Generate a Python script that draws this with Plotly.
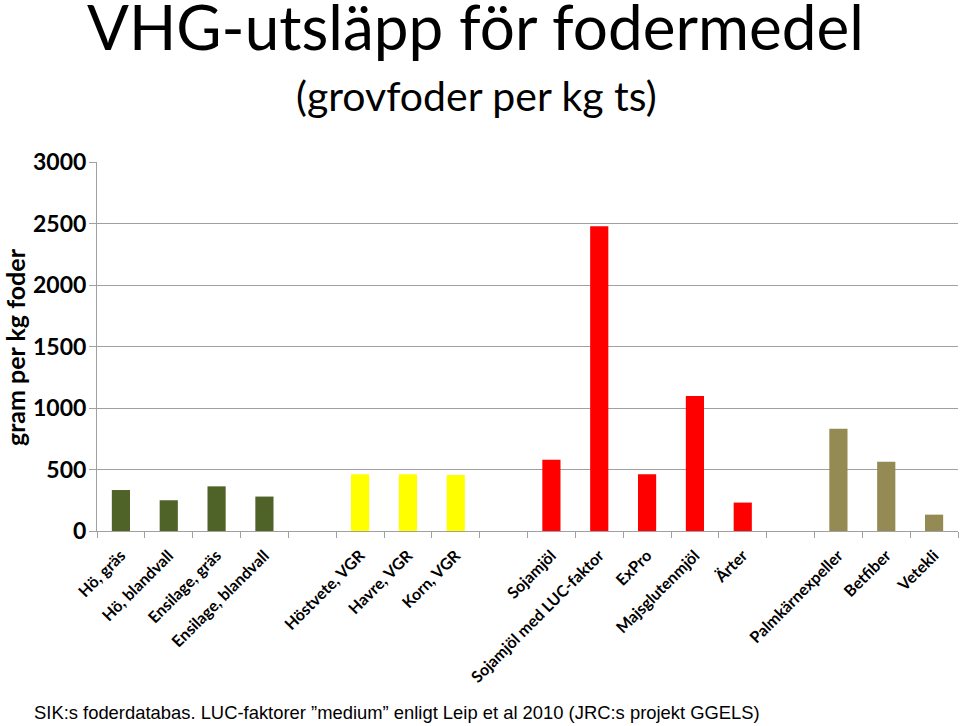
import plotly.graph_objects as go

# Data
groups = [
    ["Hö, gräs", "Hö, blandvall", "Ensilage, gräs", "Ensilage, blandvall"],
    ["Höstvete, VGR", "Havre, VGR", "Korn, VGR"],
    ["Sojamjöl", "Sojamjöl med LUC-faktor", "ExPro", "Majsglutenmjöl", "Ärter"],
    ["Palmkärnexpeller", "Betfiber", "Vetekli"],
]
group_values = [
    [333, 250, 363, 280],
    [461, 461, 455],
    [580, 2477, 461, 1098, 231],
    [832, 564, 133],
]
group_colors = ["#4F6228", "#FFFF00", "#FF0000", "#948A54"]

title = "VHG-utsläpp för fodermedel"
subtitle = "(grovfoder per kg ts)"
y_title = "gram per kg foder"
footnote = "SIK:s foderdatabas. LUC-faktorer ”medium” enligt Leip et al 2010 (JRC:s projekt GGELS)"
y_ticks = [0, 500, 1000, 1500, 2000, 2500, 3000]

# Build categories with empty gap slots between groups
cats, vals, cols, labels = [], [], [], []
for gi, (names, values) in enumerate(zip(groups, group_values)):
    if gi > 0:
        gap = " " * gi
        cats.append(gap)
        vals.append(None)
        cols.append("rgba(0,0,0,0)")
        labels.append("")
    for n, v in zip(names, values):
        cats.append(n)
        vals.append(v)
        cols.append(group_colors[gi])
        labels.append("<b>" + n + "</b>")

fig = go.Figure()
fig.add_trace(go.Bar(
    x=cats, y=vals, marker=dict(color=cols, line=dict(width=0)),
    width=0.38, hoverinfo="x+y",
))

fig.update_layout(
    width=960, height=726,
    margin=dict(l=97, r=2, t=162, b=195),
    paper_bgcolor="white", plot_bgcolor="white",
    showlegend=False,
    font=dict(family="Lato", color="black"),
)
fig.update_xaxes(
    type="category", categoryorder="array", categoryarray=cats,
    range=[-0.5, len(cats) - 0.5],
    tickson="boundaries", ticks="outside", ticklen=6, tickcolor="#A0A0A0",
    tickmode="array", tickvals=cats, ticktext=labels,
    tickangle=-45, tickfont=dict(family="Lato", size=16, color="black"),
    ticklabelstandoff=8,
    showline=True, linecolor="#A0A0A0", linewidth=1,
    showgrid=False, zeroline=False,
)
fig.update_yaxes(
    range=[0, 3000], tickvals=y_ticks,
    ticktext=["<b>%d</b>" % t for t in y_ticks],
    tickfont=dict(family="Lato", size=23, color="black"),
    ticks="outside", ticklen=7, tickcolor="#A0A0A0",
    ticklabelstandoff=-2,
    showgrid=True, gridcolor="#A0A0A0", gridwidth=1,
    showline=True, linecolor="#A0A0A0", linewidth=1,
    zeroline=False,
)

ann = [
    dict(text=title, x=475, y=26, size=62, family="Lato"),
    dict(text=subtitle, x=476, y=95, size=41, family="Lato"),
]
for a in ann:
    fig.add_annotation(
        text=a["text"], xref="paper", yref="paper",
        x=(a["x"] - 97) / 861, y=1 + (162 - a["y"]) / 369,
        xanchor="center", yanchor="middle", showarrow=False,
        font=dict(family=a["family"], size=a["size"], color="black"),
    )

fig.add_annotation(
    text="<b>" + y_title + "</b>", xref="paper", yref="paper",
    x=(15 - 97) / 861, y=(531 - 347) / 369, textangle=-90,
    xanchor="center", yanchor="middle", showarrow=False,
    font=dict(family="Lato", size=25, color="black"),
)
fig.add_annotation(
    text=footnote, xref="paper", yref="paper",
    x=(32 - 97) / 861, y=-(712 - 531) / 369,
    xanchor="left", yanchor="middle", showarrow=False,
    font=dict(family="Liberation Sans", size=18.4, color="black"),
)

fig.write_html("out.html")
